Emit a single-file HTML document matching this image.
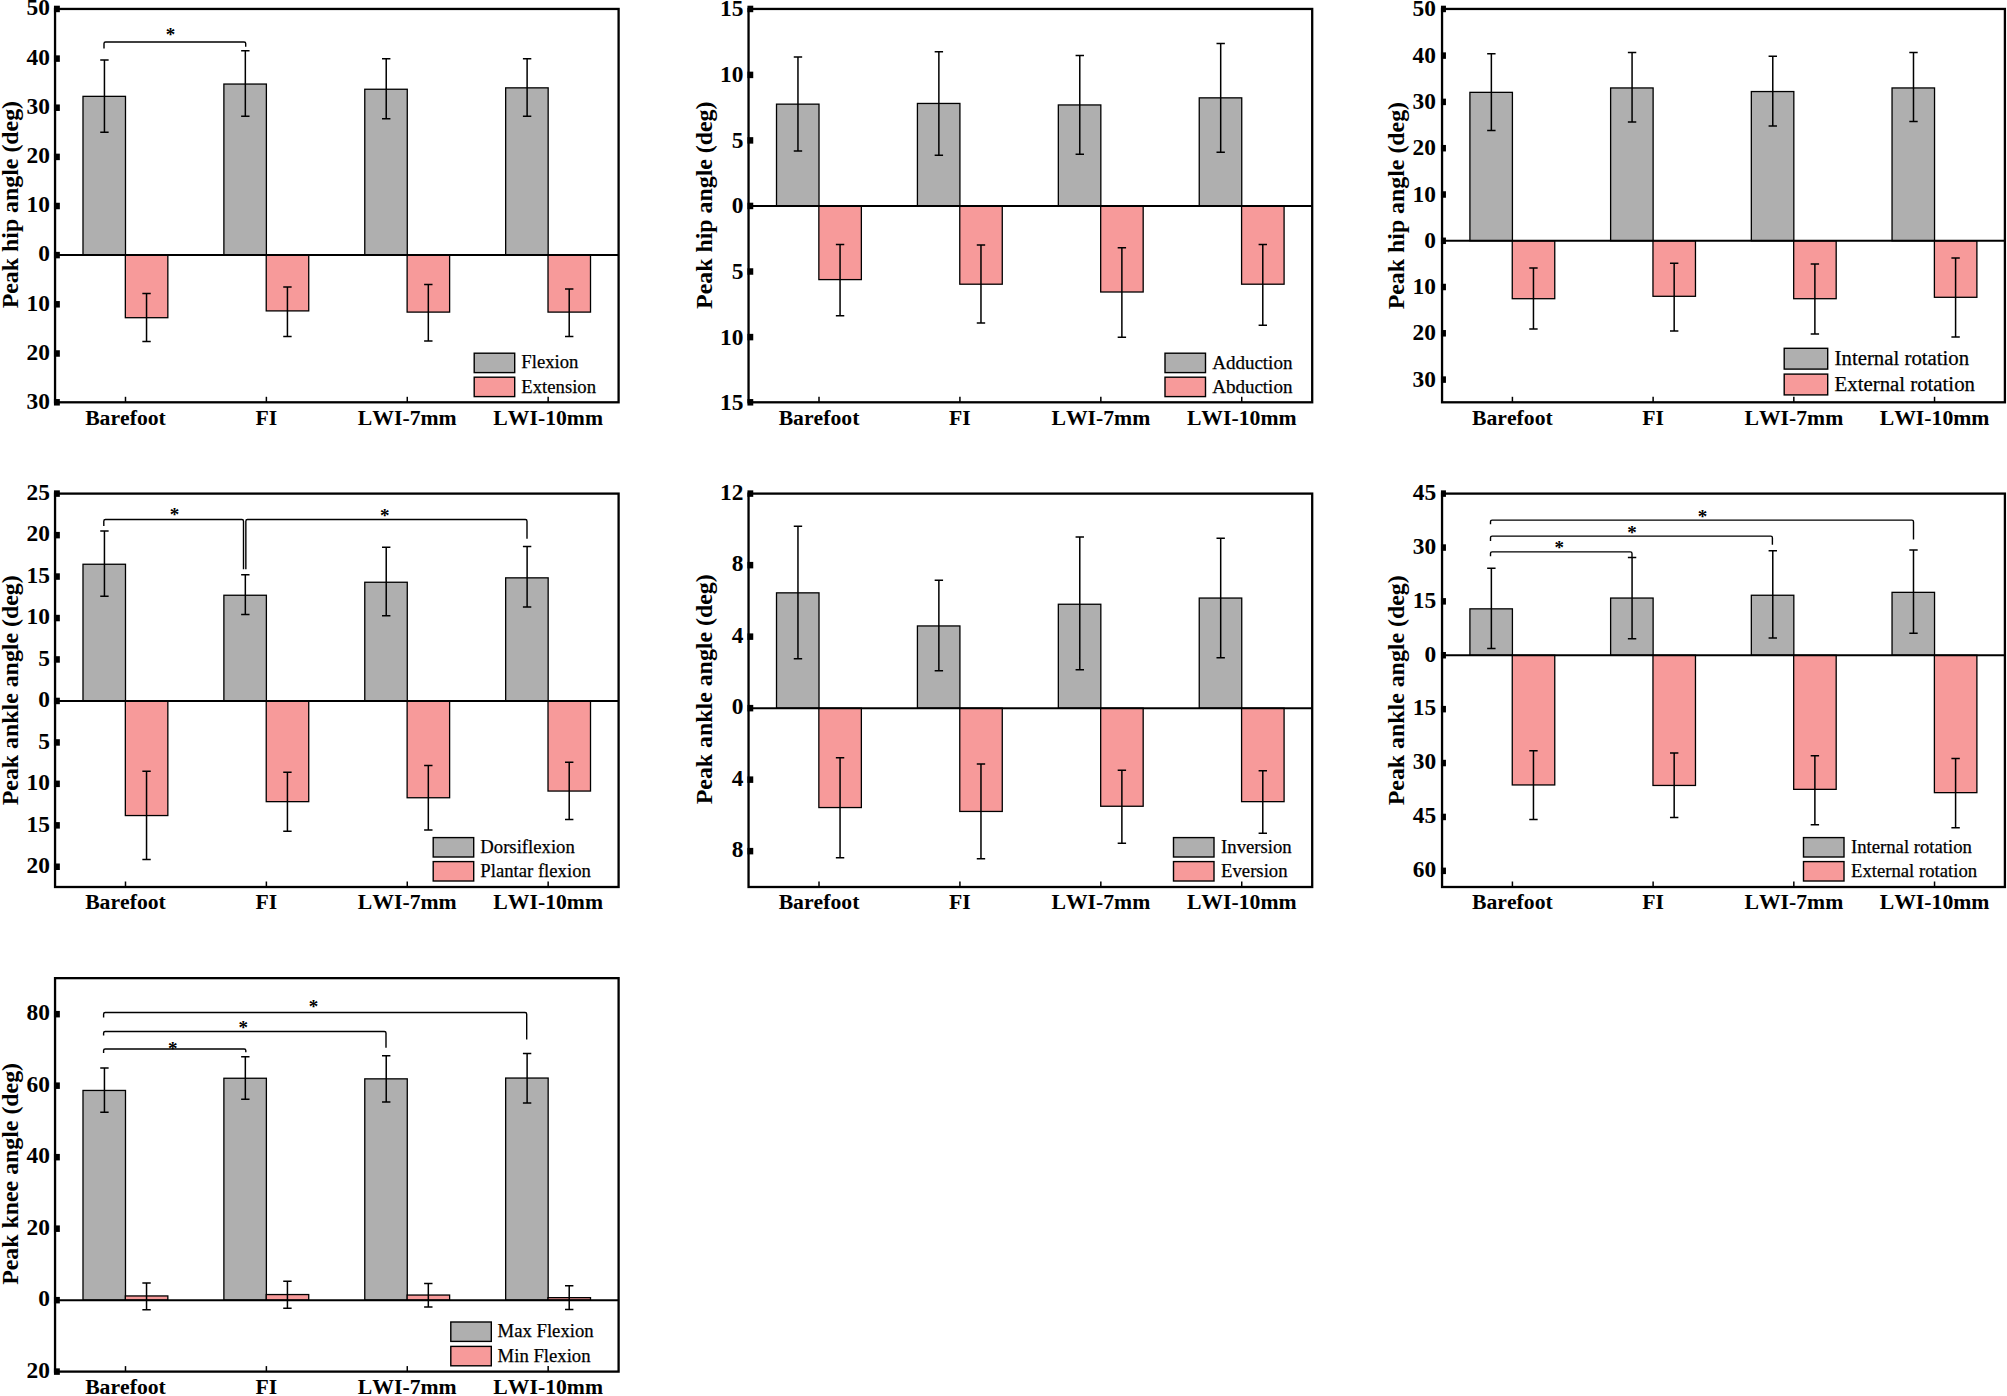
<!DOCTYPE html>
<html lang="en">
<head>
<meta charset="utf-8">
<title>Peak joint angles</title>
<style>
html,body{margin:0;padding:0;background:#fff;}
body{width:2007px;height:1396px;overflow:hidden;}
svg{display:block;}
text{font-family:'Liberation Serif','Times New Roman',serif;fill:#000;font-kerning:none;}
.b{font-weight:bold;font-size:21.7px;}
.t{font-weight:bold;font-size:23.4px;}
.yt{font-weight:bold;font-size:23.85px;}
.l{font-weight:normal;stroke:#000;stroke-width:0.25px;}
</style>
</head>
<body>
<svg width="2007" height="1396" viewBox="0 0 2007 1396">
<rect x="0" y="0" width="2007" height="1396" fill="#fff"/>
<g>
<rect x="82.99" y="96.35" width="42.5" height="158.75" fill="#afafaf" stroke="#000" stroke-width="1.3"/>
<rect x="125.34" y="255.1" width="42.5" height="62.6" fill="#f79a9a" stroke="#000" stroke-width="1.3"/>
<rect x="223.88" y="84.05" width="42.5" height="171.05" fill="#afafaf" stroke="#000" stroke-width="1.3"/>
<rect x="266.23" y="255.1" width="42.5" height="55.8" fill="#f79a9a" stroke="#000" stroke-width="1.3"/>
<rect x="364.77" y="89.25" width="42.5" height="165.85" fill="#afafaf" stroke="#000" stroke-width="1.3"/>
<rect x="407.12" y="255.1" width="42.5" height="57" fill="#f79a9a" stroke="#000" stroke-width="1.3"/>
<rect x="505.66" y="87.85" width="42.5" height="167.25" fill="#afafaf" stroke="#000" stroke-width="1.3"/>
<rect x="548.01" y="255.1" width="42.5" height="57" fill="#f79a9a" stroke="#000" stroke-width="1.3"/>
<line x1="55.05" y1="255.1" x2="618.6" y2="255.1" stroke="#000" stroke-width="2.0"/>
<path d="M104.44 60.05V132.25M100.24 60.05H108.64M100.24 132.25H108.64M146.54 293.5V341.6M142.34 293.5H150.74M142.34 341.6H150.74M245.33 50.85V116.15M241.13 50.85H249.53M241.13 116.15H249.53M287.43 286.9V336.5M283.23 286.9H291.63M283.23 336.5H291.63M386.22 58.65V118.65M382.02 58.65H390.42M382.02 118.65H390.42M428.32 284.5V340.9M424.12 284.5H432.52M424.12 340.9H432.52M527.11 58.65V116.15M522.91 58.65H531.31M522.91 116.15H531.31M569.21 289V336.4M565.01 289H573.41M565.01 336.4H573.41" fill="none" stroke="#000" stroke-width="1.5"/>
<path d="M104 48.45V43.55Q104 41.95 105.6 41.95H244.1Q245.7 41.95 245.7 43.55V46.85" fill="none" stroke="#000" stroke-width="1.4"/>
<text x="170.4" y="41.32" font-size="19" font-weight="bold" text-anchor="middle">*</text>
<rect x="55.05" y="8.95" width="563.55" height="393.35" fill="none" stroke="#000" stroke-width="2.3"/>
<rect x="53.95" y="5.7" width="5.9" height="6.5" fill="#000"/>
<text class="t" x="49.95" y="15.25" text-anchor="end">50</text>
<rect x="53.95" y="55.35" width="5.9" height="6.5" fill="#000"/>
<text class="t" x="49.95" y="64.9" text-anchor="end">40</text>
<rect x="53.95" y="104.45" width="5.9" height="6.5" fill="#000"/>
<text class="t" x="49.95" y="114" text-anchor="end">30</text>
<rect x="53.95" y="153.65" width="5.9" height="6.5" fill="#000"/>
<text class="t" x="49.95" y="163.2" text-anchor="end">20</text>
<rect x="53.95" y="202.75" width="5.9" height="6.5" fill="#000"/>
<text class="t" x="49.95" y="212.3" text-anchor="end">10</text>
<rect x="53.95" y="251.85" width="5.9" height="6.5" fill="#000"/>
<text class="t" x="49.95" y="261.4" text-anchor="end">0</text>
<rect x="53.95" y="301.05" width="5.9" height="6.5" fill="#000"/>
<text class="t" x="49.95" y="310.6" text-anchor="end">10</text>
<rect x="53.95" y="350.25" width="5.9" height="6.5" fill="#000"/>
<text class="t" x="49.95" y="359.8" text-anchor="end">20</text>
<rect x="53.95" y="399.05" width="5.9" height="6.5" fill="#000"/>
<text class="t" x="49.95" y="408.6" text-anchor="end">30</text>
<line x1="125.49" y1="402.3" x2="125.49" y2="396.8" stroke="#000" stroke-width="1.5"/>
<text class="b" x="125.49" y="424.6" text-anchor="middle">Barefoot</text>
<line x1="266.38" y1="402.3" x2="266.38" y2="396.8" stroke="#000" stroke-width="1.5"/>
<text class="b" x="266.38" y="424.6" text-anchor="middle">FI</text>
<line x1="407.27" y1="402.3" x2="407.27" y2="396.8" stroke="#000" stroke-width="1.5"/>
<text class="b" x="407.27" y="424.6" text-anchor="middle">LWI-7mm</text>
<line x1="548.16" y1="402.3" x2="548.16" y2="396.8" stroke="#000" stroke-width="1.5"/>
<text class="b" x="548.16" y="424.6" text-anchor="middle">LWI-10mm</text>
<text class="yt" transform="translate(18.45 204.62) rotate(-90)" text-anchor="middle">Peak hip angle (deg)</text>
<rect x="474.2" y="353.2" width="40.5" height="19.4" fill="#afafaf" stroke="#000" stroke-width="1.4"/>
<rect x="474.2" y="377.2" width="40.5" height="19.4" fill="#f79a9a" stroke="#000" stroke-width="1.4"/>
<text class="l" font-size="18.7" x="521.3" y="368.4">Flexion</text>
<text class="l" font-size="18.7" x="521.3" y="392.5">Extension</text>
</g>
<g>
<rect x="776.51" y="104.15" width="42.5" height="101.8" fill="#afafaf" stroke="#000" stroke-width="1.3"/>
<rect x="818.86" y="205.95" width="42.5" height="73.65" fill="#f79a9a" stroke="#000" stroke-width="1.3"/>
<rect x="917.42" y="103.45" width="42.5" height="102.5" fill="#afafaf" stroke="#000" stroke-width="1.3"/>
<rect x="959.77" y="205.95" width="42.5" height="78.25" fill="#f79a9a" stroke="#000" stroke-width="1.3"/>
<rect x="1058.33" y="104.95" width="42.5" height="101" fill="#afafaf" stroke="#000" stroke-width="1.3"/>
<rect x="1100.68" y="205.95" width="42.5" height="86.05" fill="#f79a9a" stroke="#000" stroke-width="1.3"/>
<rect x="1199.24" y="97.85" width="42.5" height="108.1" fill="#afafaf" stroke="#000" stroke-width="1.3"/>
<rect x="1241.59" y="205.95" width="42.5" height="78.25" fill="#f79a9a" stroke="#000" stroke-width="1.3"/>
<line x1="748.55" y1="205.95" x2="1312.2" y2="205.95" stroke="#000" stroke-width="2.0"/>
<path d="M797.96 57.05V151.05M793.76 57.05H802.16M793.76 151.05H802.16M840.06 244.4V315.8M835.86 244.4H844.26M835.86 315.8H844.26M938.87 51.75V155.15M934.67 51.75H943.07M934.67 155.15H943.07M980.97 244.9V323.1M976.77 244.9H985.17M976.77 323.1H985.17M1079.78 55.55V154.25M1075.58 55.55H1083.98M1075.58 154.25H1083.98M1121.88 247.7V337.2M1117.68 247.7H1126.08M1117.68 337.2H1126.08M1220.69 43.45V152.15M1216.49 43.45H1224.89M1216.49 152.15H1224.89M1262.79 244.4V325.2M1258.59 244.4H1266.99M1258.59 325.2H1266.99" fill="none" stroke="#000" stroke-width="1.5"/>
<rect x="748.55" y="8.95" width="563.65" height="393.35" fill="none" stroke="#000" stroke-width="2.3"/>
<rect x="747.45" y="5.7" width="5.8" height="6.5" fill="#000"/>
<text class="t" x="743.45" y="16.45" text-anchor="end">15</text>
<rect x="747.45" y="71.65" width="5.8" height="6.5" fill="#000"/>
<text class="t" x="743.45" y="82.4" text-anchor="end">10</text>
<rect x="747.45" y="137.15" width="5.8" height="6.5" fill="#000"/>
<text class="t" x="743.45" y="147.9" text-anchor="end">5</text>
<rect x="747.45" y="202.7" width="5.8" height="6.5" fill="#000"/>
<text class="t" x="743.45" y="213.45" text-anchor="end">0</text>
<rect x="747.45" y="268.25" width="5.8" height="6.5" fill="#000"/>
<text class="t" x="743.45" y="279" text-anchor="end">5</text>
<rect x="747.45" y="333.85" width="5.8" height="6.5" fill="#000"/>
<text class="t" x="743.45" y="344.6" text-anchor="end">10</text>
<rect x="747.45" y="399.05" width="5.8" height="6.5" fill="#000"/>
<text class="t" x="743.45" y="409.8" text-anchor="end">15</text>
<line x1="819.01" y1="402.3" x2="819.01" y2="396.8" stroke="#000" stroke-width="1.5"/>
<text class="b" x="819.01" y="424.6" text-anchor="middle">Barefoot</text>
<line x1="959.92" y1="402.3" x2="959.92" y2="396.8" stroke="#000" stroke-width="1.5"/>
<text class="b" x="959.92" y="424.6" text-anchor="middle">FI</text>
<line x1="1100.83" y1="402.3" x2="1100.83" y2="396.8" stroke="#000" stroke-width="1.5"/>
<text class="b" x="1100.83" y="424.6" text-anchor="middle">LWI-7mm</text>
<line x1="1241.74" y1="402.3" x2="1241.74" y2="396.8" stroke="#000" stroke-width="1.5"/>
<text class="b" x="1241.74" y="424.6" text-anchor="middle">LWI-10mm</text>
<text class="yt" transform="translate(711.95 205.22) rotate(-90)" text-anchor="middle">Peak hip angle (deg)</text>
<rect x="1165" y="353.2" width="40.5" height="19.4" fill="#afafaf" stroke="#000" stroke-width="1.4"/>
<rect x="1165" y="377.2" width="40.5" height="19.4" fill="#f79a9a" stroke="#000" stroke-width="1.4"/>
<text class="l" font-size="19.0" x="1212.2" y="369.3">Adduction</text>
<text class="l" font-size="19.0" x="1212.2" y="393.2">Abduction</text>
</g>
<g>
<rect x="1469.91" y="92.35" width="42.5" height="148.45" fill="#afafaf" stroke="#000" stroke-width="1.3"/>
<rect x="1512.26" y="240.8" width="42.5" height="57.9" fill="#f79a9a" stroke="#000" stroke-width="1.3"/>
<rect x="1610.62" y="87.95" width="42.5" height="152.85" fill="#afafaf" stroke="#000" stroke-width="1.3"/>
<rect x="1652.97" y="240.8" width="42.5" height="55.5" fill="#f79a9a" stroke="#000" stroke-width="1.3"/>
<rect x="1751.33" y="91.55" width="42.5" height="149.25" fill="#afafaf" stroke="#000" stroke-width="1.3"/>
<rect x="1793.68" y="240.8" width="42.5" height="57.9" fill="#f79a9a" stroke="#000" stroke-width="1.3"/>
<rect x="1892.04" y="87.95" width="42.5" height="152.85" fill="#afafaf" stroke="#000" stroke-width="1.3"/>
<rect x="1934.39" y="240.8" width="42.5" height="56.5" fill="#f79a9a" stroke="#000" stroke-width="1.3"/>
<line x1="1442.05" y1="240.8" x2="2004.9" y2="240.8" stroke="#000" stroke-width="2.0"/>
<path d="M1491.36 53.75V130.55M1487.16 53.75H1495.56M1487.16 130.55H1495.56M1533.46 267.9V329.1M1529.26 267.9H1537.66M1529.26 329.1H1537.66M1632.07 52.45V122.05M1627.87 52.45H1636.27M1627.87 122.05H1636.27M1674.17 263.3V330.9M1669.97 263.3H1678.37M1669.97 330.9H1678.37M1772.78 56.15V126.05M1768.58 56.15H1776.98M1768.58 126.05H1776.98M1814.88 264V334M1810.68 264H1819.08M1810.68 334H1819.08M1913.49 52.45V121.55M1909.29 52.45H1917.69M1909.29 121.55H1917.69M1955.59 258.1V337M1951.39 258.1H1959.79M1951.39 337H1959.79" fill="none" stroke="#000" stroke-width="1.5"/>
<rect x="1442.05" y="8.95" width="562.85" height="393.35" fill="none" stroke="#000" stroke-width="2.3"/>
<rect x="1440.95" y="5.7" width="5" height="6.5" fill="#000"/>
<text class="t" x="1435.95" y="15.95" text-anchor="end">50</text>
<rect x="1440.95" y="52.35" width="5" height="6.5" fill="#000"/>
<text class="t" x="1435.95" y="62.6" text-anchor="end">40</text>
<rect x="1440.95" y="98.65" width="5" height="6.5" fill="#000"/>
<text class="t" x="1435.95" y="108.9" text-anchor="end">30</text>
<rect x="1440.95" y="144.95" width="5" height="6.5" fill="#000"/>
<text class="t" x="1435.95" y="155.2" text-anchor="end">20</text>
<rect x="1440.95" y="191.25" width="5" height="6.5" fill="#000"/>
<text class="t" x="1435.95" y="201.5" text-anchor="end">10</text>
<rect x="1440.95" y="237.55" width="5" height="6.5" fill="#000"/>
<text class="t" x="1435.95" y="247.8" text-anchor="end">0</text>
<rect x="1440.95" y="283.75" width="5" height="6.5" fill="#000"/>
<text class="t" x="1435.95" y="294" text-anchor="end">10</text>
<rect x="1440.95" y="330.05" width="5" height="6.5" fill="#000"/>
<text class="t" x="1435.95" y="340.3" text-anchor="end">20</text>
<rect x="1440.95" y="376.35" width="5" height="6.5" fill="#000"/>
<text class="t" x="1435.95" y="386.6" text-anchor="end">30</text>
<line x1="1512.41" y1="402.3" x2="1512.41" y2="396.8" stroke="#000" stroke-width="1.5"/>
<text class="b" x="1512.41" y="424.6" text-anchor="middle">Barefoot</text>
<line x1="1653.12" y1="402.3" x2="1653.12" y2="396.8" stroke="#000" stroke-width="1.5"/>
<text class="b" x="1653.12" y="424.6" text-anchor="middle">FI</text>
<line x1="1793.83" y1="402.3" x2="1793.83" y2="396.8" stroke="#000" stroke-width="1.5"/>
<text class="b" x="1793.83" y="424.6" text-anchor="middle">LWI-7mm</text>
<line x1="1934.54" y1="402.3" x2="1934.54" y2="396.8" stroke="#000" stroke-width="1.5"/>
<text class="b" x="1934.54" y="424.6" text-anchor="middle">LWI-10mm</text>
<text class="yt" transform="translate(1403.85 205.62) rotate(-90)" text-anchor="middle">Peak hip angle (deg)</text>
<rect x="1784.2" y="348.3" width="43.5" height="20.8" fill="#afafaf" stroke="#000" stroke-width="1.4"/>
<rect x="1784.2" y="374.1" width="43.5" height="20.8" fill="#f79a9a" stroke="#000" stroke-width="1.4"/>
<text class="l" font-size="20.8" x="1834.6" y="364.6">Internal rotation</text>
<text class="l" font-size="20.8" x="1834.6" y="390.5">External rotation</text>
</g>
<g>
<rect x="82.99" y="564.25" width="42.5" height="136.7" fill="#afafaf" stroke="#000" stroke-width="1.3"/>
<rect x="125.34" y="700.95" width="42.5" height="114.6" fill="#f79a9a" stroke="#000" stroke-width="1.3"/>
<rect x="223.88" y="595.25" width="42.5" height="105.7" fill="#afafaf" stroke="#000" stroke-width="1.3"/>
<rect x="266.23" y="700.95" width="42.5" height="100.7" fill="#f79a9a" stroke="#000" stroke-width="1.3"/>
<rect x="364.77" y="582.25" width="42.5" height="118.7" fill="#afafaf" stroke="#000" stroke-width="1.3"/>
<rect x="407.12" y="700.95" width="42.5" height="96.8" fill="#f79a9a" stroke="#000" stroke-width="1.3"/>
<rect x="505.66" y="577.85" width="42.5" height="123.1" fill="#afafaf" stroke="#000" stroke-width="1.3"/>
<rect x="548.01" y="700.95" width="42.5" height="90.1" fill="#f79a9a" stroke="#000" stroke-width="1.3"/>
<line x1="55.05" y1="700.95" x2="618.6" y2="700.95" stroke="#000" stroke-width="2.0"/>
<path d="M104.44 530.95V596.25M100.24 530.95H108.64M100.24 596.25H108.64M146.54 771.25V859.45M142.34 771.25H150.74M142.34 859.45H150.74M245.33 574.85V614.55M241.13 574.85H249.53M241.13 614.55H249.53M287.43 772.15V831.25M283.23 772.15H291.63M283.23 831.25H291.63M386.22 547.35V615.85M382.02 547.35H390.42M382.02 615.85H390.42M428.32 765.55V830.05M424.12 765.55H432.52M424.12 830.05H432.52M527.11 546.45V606.95M522.91 546.45H531.31M522.91 606.95H531.31M569.21 762.35V819.45M565.01 762.35H573.41M565.01 819.45H573.41" fill="none" stroke="#000" stroke-width="1.5"/>
<path d="M103.8 526.05V521.15Q103.8 519.55 105.4 519.55H241.9Q243.5 519.55 243.5 521.15V569.35M245.85 569.35V521.15Q245.85 519.55 247.45 519.55H525.4Q527 519.55 527 521.15V538.65" fill="none" stroke="#000" stroke-width="1.4"/>
<text x="174.4" y="521.01" font-size="19" font-weight="bold" text-anchor="middle">*</text>
<text x="384.7" y="521.62" font-size="19" font-weight="bold" text-anchor="middle">*</text>
<rect x="55.05" y="493.6" width="563.55" height="393.4" fill="none" stroke="#000" stroke-width="2.3"/>
<rect x="53.95" y="490.35" width="5.9" height="6.5" fill="#000"/>
<text class="t" x="49.95" y="499.9" text-anchor="end">25</text>
<rect x="53.95" y="531.9" width="5.9" height="6.5" fill="#000"/>
<text class="t" x="49.95" y="541.45" text-anchor="end">20</text>
<rect x="53.95" y="573.3" width="5.9" height="6.5" fill="#000"/>
<text class="t" x="49.95" y="582.85" text-anchor="end">15</text>
<rect x="53.95" y="614.8" width="5.9" height="6.5" fill="#000"/>
<text class="t" x="49.95" y="624.35" text-anchor="end">10</text>
<rect x="53.95" y="656.2" width="5.9" height="6.5" fill="#000"/>
<text class="t" x="49.95" y="665.75" text-anchor="end">5</text>
<rect x="53.95" y="697.7" width="5.9" height="6.5" fill="#000"/>
<text class="t" x="49.95" y="707.25" text-anchor="end">0</text>
<rect x="53.95" y="739.2" width="5.9" height="6.5" fill="#000"/>
<text class="t" x="49.95" y="748.75" text-anchor="end">5</text>
<rect x="53.95" y="780.6" width="5.9" height="6.5" fill="#000"/>
<text class="t" x="49.95" y="790.15" text-anchor="end">10</text>
<rect x="53.95" y="822.1" width="5.9" height="6.5" fill="#000"/>
<text class="t" x="49.95" y="831.65" text-anchor="end">15</text>
<rect x="53.95" y="863.5" width="5.9" height="6.5" fill="#000"/>
<text class="t" x="49.95" y="873.05" text-anchor="end">20</text>
<line x1="125.49" y1="887" x2="125.49" y2="881.5" stroke="#000" stroke-width="1.5"/>
<text class="b" x="125.49" y="909.3" text-anchor="middle">Barefoot</text>
<line x1="266.38" y1="887" x2="266.38" y2="881.5" stroke="#000" stroke-width="1.5"/>
<text class="b" x="266.38" y="909.3" text-anchor="middle">FI</text>
<line x1="407.27" y1="887" x2="407.27" y2="881.5" stroke="#000" stroke-width="1.5"/>
<text class="b" x="407.27" y="909.3" text-anchor="middle">LWI-7mm</text>
<line x1="548.16" y1="887" x2="548.16" y2="881.5" stroke="#000" stroke-width="1.5"/>
<text class="b" x="548.16" y="909.3" text-anchor="middle">LWI-10mm</text>
<text class="yt" transform="translate(17.95 690.3) rotate(-90)" text-anchor="middle">Peak ankle angle (deg)</text>
<rect x="433.2" y="837.6" width="40.5" height="19.4" fill="#afafaf" stroke="#000" stroke-width="1.4"/>
<rect x="433.2" y="861.6" width="40.5" height="19.4" fill="#f79a9a" stroke="#000" stroke-width="1.4"/>
<text class="l" font-size="18.7" x="480.3" y="852.6">Dorsiflexion</text>
<text class="l" font-size="18.7" x="480.3" y="876.6">Plantar flexion</text>
</g>
<g>
<rect x="776.51" y="592.85" width="42.5" height="115.3" fill="#afafaf" stroke="#000" stroke-width="1.3"/>
<rect x="818.86" y="708.15" width="42.5" height="99.4" fill="#f79a9a" stroke="#000" stroke-width="1.3"/>
<rect x="917.42" y="625.95" width="42.5" height="82.2" fill="#afafaf" stroke="#000" stroke-width="1.3"/>
<rect x="959.77" y="708.15" width="42.5" height="103.3" fill="#f79a9a" stroke="#000" stroke-width="1.3"/>
<rect x="1058.33" y="604.25" width="42.5" height="103.9" fill="#afafaf" stroke="#000" stroke-width="1.3"/>
<rect x="1100.68" y="708.15" width="42.5" height="98.1" fill="#f79a9a" stroke="#000" stroke-width="1.3"/>
<rect x="1199.24" y="598.05" width="42.5" height="110.1" fill="#afafaf" stroke="#000" stroke-width="1.3"/>
<rect x="1241.59" y="708.15" width="42.5" height="93.5" fill="#f79a9a" stroke="#000" stroke-width="1.3"/>
<line x1="748.55" y1="708.15" x2="1312.2" y2="708.15" stroke="#000" stroke-width="2.0"/>
<path d="M797.96 526.35V658.65M793.76 526.35H802.16M793.76 658.65H802.16M840.06 757.75V857.85M835.86 757.75H844.26M835.86 857.85H844.26M938.87 580.25V670.65M934.67 580.25H943.07M934.67 670.65H943.07M980.97 763.95V858.65M976.77 763.95H985.17M976.77 858.65H985.17M1079.78 537.05V669.75M1075.58 537.05H1083.98M1075.58 669.75H1083.98M1121.88 770.15V843.15M1117.68 770.15H1126.08M1117.68 843.15H1126.08M1220.69 538.35V657.85M1216.49 538.35H1224.89M1216.49 657.85H1224.89M1262.79 770.85V833.35M1258.59 770.85H1266.99M1258.59 833.35H1266.99" fill="none" stroke="#000" stroke-width="1.5"/>
<rect x="748.55" y="493.6" width="563.65" height="393.4" fill="none" stroke="#000" stroke-width="2.3"/>
<rect x="747.45" y="490.35" width="5.8" height="6.5" fill="#000"/>
<text class="t" x="743.45" y="499.9" text-anchor="end">12</text>
<rect x="747.45" y="561.9" width="5.8" height="6.5" fill="#000"/>
<text class="t" x="743.45" y="571.45" text-anchor="end">8</text>
<rect x="747.45" y="633.4" width="5.8" height="6.5" fill="#000"/>
<text class="t" x="743.45" y="642.95" text-anchor="end">4</text>
<rect x="747.45" y="704.9" width="5.8" height="6.5" fill="#000"/>
<text class="t" x="743.45" y="714.45" text-anchor="end">0</text>
<rect x="747.45" y="776.4" width="5.8" height="6.5" fill="#000"/>
<text class="t" x="743.45" y="785.95" text-anchor="end">4</text>
<rect x="747.45" y="847.9" width="5.8" height="6.5" fill="#000"/>
<text class="t" x="743.45" y="857.45" text-anchor="end">8</text>
<line x1="819.01" y1="887" x2="819.01" y2="881.5" stroke="#000" stroke-width="1.5"/>
<text class="b" x="819.01" y="909.3" text-anchor="middle">Barefoot</text>
<line x1="959.92" y1="887" x2="959.92" y2="881.5" stroke="#000" stroke-width="1.5"/>
<text class="b" x="959.92" y="909.3" text-anchor="middle">FI</text>
<line x1="1100.83" y1="887" x2="1100.83" y2="881.5" stroke="#000" stroke-width="1.5"/>
<text class="b" x="1100.83" y="909.3" text-anchor="middle">LWI-7mm</text>
<line x1="1241.74" y1="887" x2="1241.74" y2="881.5" stroke="#000" stroke-width="1.5"/>
<text class="b" x="1241.74" y="909.3" text-anchor="middle">LWI-10mm</text>
<text class="yt" transform="translate(711.95 689.3) rotate(-90)" text-anchor="middle">Peak ankle angle (deg)</text>
<rect x="1173.5" y="837.6" width="40.5" height="19.4" fill="#afafaf" stroke="#000" stroke-width="1.4"/>
<rect x="1173.5" y="861.6" width="40.5" height="19.4" fill="#f79a9a" stroke="#000" stroke-width="1.4"/>
<text class="l" font-size="18.7" x="1221.1" y="852.6">Inversion</text>
<text class="l" font-size="18.7" x="1221.1" y="876.6">Eversion</text>
</g>
<g>
<rect x="1469.91" y="608.85" width="42.5" height="46.4" fill="#afafaf" stroke="#000" stroke-width="1.3"/>
<rect x="1512.26" y="655.25" width="42.5" height="129.7" fill="#f79a9a" stroke="#000" stroke-width="1.3"/>
<rect x="1610.62" y="598.05" width="42.5" height="57.2" fill="#afafaf" stroke="#000" stroke-width="1.3"/>
<rect x="1652.97" y="655.25" width="42.5" height="130.2" fill="#f79a9a" stroke="#000" stroke-width="1.3"/>
<rect x="1751.33" y="595.25" width="42.5" height="60" fill="#afafaf" stroke="#000" stroke-width="1.3"/>
<rect x="1793.68" y="655.25" width="42.5" height="134.1" fill="#f79a9a" stroke="#000" stroke-width="1.3"/>
<rect x="1892.04" y="592.35" width="42.5" height="62.9" fill="#afafaf" stroke="#000" stroke-width="1.3"/>
<rect x="1934.39" y="655.25" width="42.5" height="137.4" fill="#f79a9a" stroke="#000" stroke-width="1.3"/>
<line x1="1442.05" y1="655.25" x2="2004.9" y2="655.25" stroke="#000" stroke-width="2.0"/>
<path d="M1491.36 568.25V648.55M1487.16 568.25H1495.56M1487.16 648.55H1495.56M1533.46 750.85V819.45M1529.26 750.85H1537.66M1529.26 819.45H1537.66M1632.07 557.45V638.75M1627.87 557.45H1636.27M1627.87 638.75H1636.27M1674.17 753.05V817.55M1669.97 753.05H1678.37M1669.97 817.55H1678.37M1772.78 550.85V637.95M1768.58 550.85H1776.98M1768.58 637.95H1776.98M1814.88 755.75V824.85M1810.68 755.75H1819.08M1810.68 824.85H1819.08M1913.49 550.05V633.35M1909.29 550.05H1917.69M1909.29 633.35H1917.69M1955.59 758.55V827.65M1951.39 758.55H1959.79M1951.39 827.65H1959.79" fill="none" stroke="#000" stroke-width="1.5"/>
<path d="M1490.5 556.25V553.45Q1490.5 551.85 1492.1 551.85H1630.4Q1632 551.85 1632 553.45V557.45M1490.5 541.05V537.75Q1490.5 536.15 1492.1 536.15H1770.8Q1772.4 536.15 1772.4 537.75V544.85M1490.5 524.25V521.75Q1490.5 520.15 1492.1 520.15H1911.9Q1913.5 520.15 1913.5 521.75V539.45" fill="none" stroke="#000" stroke-width="1.4"/>
<text x="1559.2" y="554.41" font-size="19" font-weight="bold" text-anchor="middle">*</text>
<text x="1632" y="539.41" font-size="19" font-weight="bold" text-anchor="middle">*</text>
<text x="1702.4" y="522.62" font-size="19" font-weight="bold" text-anchor="middle">*</text>
<rect x="1442.05" y="493.6" width="562.85" height="393.4" fill="none" stroke="#000" stroke-width="2.3"/>
<rect x="1440.95" y="490.35" width="5" height="6.5" fill="#000"/>
<text class="t" x="1436.25" y="499.9" text-anchor="end">45</text>
<rect x="1440.95" y="544.3" width="5" height="6.5" fill="#000"/>
<text class="t" x="1436.25" y="553.85" text-anchor="end">30</text>
<rect x="1440.95" y="598.1" width="5" height="6.5" fill="#000"/>
<text class="t" x="1436.25" y="607.65" text-anchor="end">15</text>
<rect x="1440.95" y="652" width="5" height="6.5" fill="#000"/>
<text class="t" x="1436.25" y="661.55" text-anchor="end">0</text>
<rect x="1440.95" y="705.9" width="5" height="6.5" fill="#000"/>
<text class="t" x="1436.25" y="715.45" text-anchor="end">15</text>
<rect x="1440.95" y="759.8" width="5" height="6.5" fill="#000"/>
<text class="t" x="1436.25" y="769.35" text-anchor="end">30</text>
<rect x="1440.95" y="813.7" width="5" height="6.5" fill="#000"/>
<text class="t" x="1436.25" y="823.25" text-anchor="end">45</text>
<rect x="1440.95" y="867.6" width="5" height="6.5" fill="#000"/>
<text class="t" x="1436.25" y="877.15" text-anchor="end">60</text>
<line x1="1512.41" y1="887" x2="1512.41" y2="881.5" stroke="#000" stroke-width="1.5"/>
<text class="b" x="1512.41" y="909.3" text-anchor="middle">Barefoot</text>
<line x1="1653.12" y1="887" x2="1653.12" y2="881.5" stroke="#000" stroke-width="1.5"/>
<text class="b" x="1653.12" y="909.3" text-anchor="middle">FI</text>
<line x1="1793.83" y1="887" x2="1793.83" y2="881.5" stroke="#000" stroke-width="1.5"/>
<text class="b" x="1793.83" y="909.3" text-anchor="middle">LWI-7mm</text>
<line x1="1934.54" y1="887" x2="1934.54" y2="881.5" stroke="#000" stroke-width="1.5"/>
<text class="b" x="1934.54" y="909.3" text-anchor="middle">LWI-10mm</text>
<text class="yt" transform="translate(1403.85 690.3) rotate(-90)" text-anchor="middle">Peak ankle angle (deg)</text>
<rect x="1803.5" y="837.6" width="40.5" height="19.4" fill="#afafaf" stroke="#000" stroke-width="1.4"/>
<rect x="1803.5" y="861.6" width="40.5" height="19.4" fill="#f79a9a" stroke="#000" stroke-width="1.4"/>
<text class="l" font-size="18.7" x="1851" y="852.6">Internal rotation</text>
<text class="l" font-size="18.7" x="1851" y="876.6">External rotation</text>
</g>
<g>
<rect x="82.99" y="1090.45" width="42.5" height="209.72" fill="#afafaf" stroke="#000" stroke-width="1.3"/>
<rect x="125.34" y="1295.95" width="42.5" height="4.22" fill="#f79a9a" stroke="#000" stroke-width="1.3"/>
<rect x="223.88" y="1078.25" width="42.5" height="221.92" fill="#afafaf" stroke="#000" stroke-width="1.3"/>
<rect x="266.23" y="1294.55" width="42.5" height="5.62" fill="#f79a9a" stroke="#000" stroke-width="1.3"/>
<rect x="364.77" y="1078.85" width="42.5" height="221.32" fill="#afafaf" stroke="#000" stroke-width="1.3"/>
<rect x="407.12" y="1295.05" width="42.5" height="5.12" fill="#f79a9a" stroke="#000" stroke-width="1.3"/>
<rect x="505.66" y="1078.05" width="42.5" height="222.12" fill="#afafaf" stroke="#000" stroke-width="1.3"/>
<rect x="548.01" y="1297.65" width="42.5" height="2.52" fill="#f79a9a" stroke="#000" stroke-width="1.3"/>
<line x1="55.05" y1="1300.17" x2="618.6" y2="1300.17" stroke="#000" stroke-width="2.0"/>
<path d="M104.44 1068.05V1112.15M100.24 1068.05H108.64M100.24 1112.15H108.64M146.54 1282.95V1309.67M142.34 1282.95H150.74M142.34 1309.67H150.74M245.33 1056.65V1099.25M241.13 1056.65H249.53M241.13 1099.25H249.53M287.43 1281.35V1308.27M283.23 1281.35H291.63M283.23 1308.27H291.63M386.22 1055.65V1102.05M382.02 1055.65H390.42M382.02 1102.05H390.42M428.32 1283.45V1307.07M424.12 1283.45H432.52M424.12 1307.07H432.52M527.11 1053.55V1103.05M522.91 1053.55H531.31M522.91 1103.05H531.31M569.21 1285.75V1309.57M565.01 1285.75H573.41M565.01 1309.57H573.41" fill="none" stroke="#000" stroke-width="1.5"/>
<path d="M103.6 1053.05V1050.55Q103.6 1048.95 105.2 1048.95H244.2Q245.8 1048.95 245.8 1050.55V1052.25M103.6 1035.45V1033.05Q103.6 1031.45 105.2 1031.45H384.4Q386 1031.45 386 1033.05V1047.65M103.6 1017.45V1014.15Q103.6 1012.55 105.2 1012.55H525.1Q526.7 1012.55 526.7 1014.15V1039.45" fill="none" stroke="#000" stroke-width="1.4"/>
<text x="172.8" y="1054.91" font-size="19" font-weight="bold" text-anchor="middle">*</text>
<text x="243.3" y="1033.91" font-size="19" font-weight="bold" text-anchor="middle">*</text>
<text x="313.6" y="1013.12" font-size="19" font-weight="bold" text-anchor="middle">*</text>
<rect x="55.05" y="978.15" width="563.55" height="393.45" fill="none" stroke="#000" stroke-width="2.3"/>
<rect x="53.95" y="1010.92" width="5.9" height="6.5" fill="#000"/>
<text class="t" x="49.95" y="1020.47" text-anchor="end">80</text>
<rect x="53.95" y="1082.42" width="5.9" height="6.5" fill="#000"/>
<text class="t" x="49.95" y="1091.97" text-anchor="end">60</text>
<rect x="53.95" y="1153.92" width="5.9" height="6.5" fill="#000"/>
<text class="t" x="49.95" y="1163.47" text-anchor="end">40</text>
<rect x="53.95" y="1225.42" width="5.9" height="6.5" fill="#000"/>
<text class="t" x="49.95" y="1234.97" text-anchor="end">20</text>
<rect x="53.95" y="1296.92" width="5.9" height="6.5" fill="#000"/>
<text class="t" x="49.95" y="1306.47" text-anchor="end">0</text>
<rect x="53.95" y="1368.35" width="5.9" height="6.5" fill="#000"/>
<text class="t" x="49.95" y="1377.9" text-anchor="end">20</text>
<line x1="125.49" y1="1371.6" x2="125.49" y2="1366.1" stroke="#000" stroke-width="1.5"/>
<text class="b" x="125.49" y="1393.9" text-anchor="middle">Barefoot</text>
<line x1="266.38" y1="1371.6" x2="266.38" y2="1366.1" stroke="#000" stroke-width="1.5"/>
<text class="b" x="266.38" y="1393.9" text-anchor="middle">FI</text>
<line x1="407.27" y1="1371.6" x2="407.27" y2="1366.1" stroke="#000" stroke-width="1.5"/>
<text class="b" x="407.27" y="1393.9" text-anchor="middle">LWI-7mm</text>
<line x1="548.16" y1="1371.6" x2="548.16" y2="1366.1" stroke="#000" stroke-width="1.5"/>
<text class="b" x="548.16" y="1393.9" text-anchor="middle">LWI-10mm</text>
<text class="yt" transform="translate(18.45 1173.88) rotate(-90)" text-anchor="middle">Peak knee angle (deg)</text>
<rect x="450.8" y="1322" width="40.5" height="19.4" fill="#afafaf" stroke="#000" stroke-width="1.4"/>
<rect x="450.8" y="1346.4" width="40.5" height="19.4" fill="#f79a9a" stroke="#000" stroke-width="1.4"/>
<text class="l" font-size="18.7" x="497.6" y="1337.4">Max Flexion</text>
<text class="l" font-size="18.7" x="497.6" y="1361.5">Min Flexion</text>
</g>
</svg>
</body>
</html>
